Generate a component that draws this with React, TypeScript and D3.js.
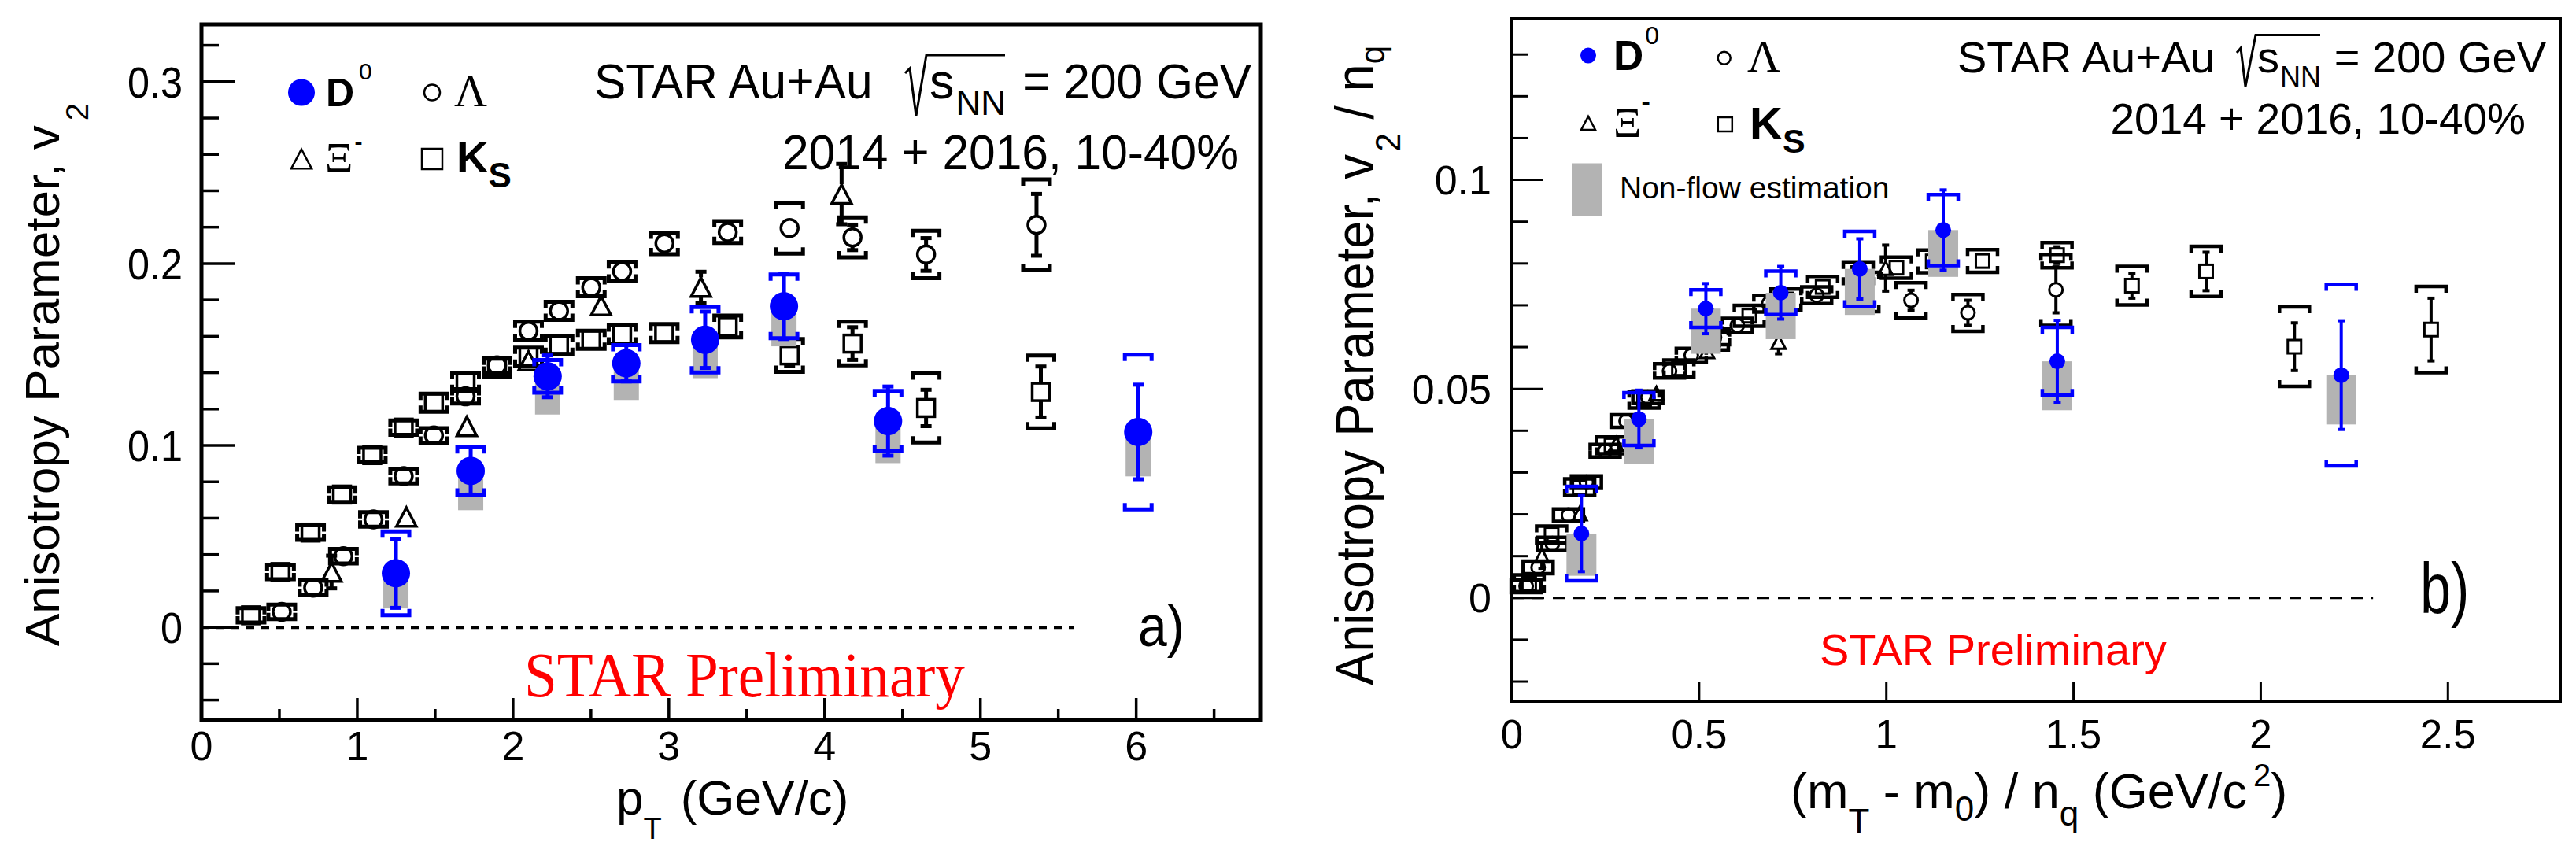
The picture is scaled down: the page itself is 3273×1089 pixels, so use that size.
import React from 'react';
import * as d3 from 'd3';

// ---------------- Panel a): v2 vs pT ----------------
const d0PtA = [1.248, 1.728, 2.222, 2.727, 3.233, 3.739, 4.407, 6.013];
const d0V2A = [0.0297, 0.086, 0.138, 0.1452, 0.1581, 0.1765, 0.1134, 0.1074];
const d0StatA = [0.019, 0.013, 0.0115, 0.01, 0.0155, 0.018, 0.019, 0.026];
const d0SysA = [0.023, 0.013, 0.009, 0.01, 0.018, 0.0175, 0.0166, 0.0425];
const d0NonFlowA = [0.0193, 0.0216, 0.021, 0.0202, 0.0211, 0.022, 0.0231, 0.0244];

const ksPtA = [0.318, 0.507, 0.7, 0.902, 1.096, 1.298, 1.492, 1.695, 1.897, 2.099, 2.295, 2.502, 2.7, 2.97, 3.378, 3.775, 4.179, 4.651, 5.388];
const ksV2A = [0.0066, 0.0304, 0.0521, 0.073, 0.0947, 0.1098, 0.1235, 0.135, 0.1427, 0.1488, 0.1553, 0.1581, 0.161, 0.1618, 0.1654, 0.1495, 0.156, 0.1206, 0.1294];
const ksStatA = [0.001, 0.001, 0.001, 0.001, 0.001, 0.001, 0.001, 0.001, 0.002, 0.002, 0.002, 0.003, 0.003, 0.003, 0.004, 0.006, 0.009, 0.01, 0.014];
const ksSysA = [0.004, 0.004, 0.004, 0.004, 0.004, 0.004, 0.005, 0.005, 0.005, 0.005, 0.005, 0.005, 0.005, 0.005, 0.006, 0.009, 0.012, 0.019, 0.02];

const lamPtA = [0.515, 0.717, 0.911, 1.104, 1.298, 1.492, 1.695, 1.897, 2.099, 2.295, 2.502, 2.7, 2.972, 3.378, 3.775, 4.179, 4.651, 5.36];
const lamV2A = [0.0085, 0.0218, 0.0391, 0.0593, 0.0831, 0.1055, 0.127, 0.144, 0.163, 0.174, 0.187, 0.1957, 0.2111, 0.2173, 0.2195, 0.2144, 0.205, 0.2213];
const lamStatA = [0.001, 0.001, 0.001, 0.001, 0.001, 0.001, 0.001, 0.002, 0.002, 0.002, 0.002, 0.002, 0.003, 0.003, 0.004, 0.007, 0.009, 0.017];
const lamSysA = [0.004, 0.004, 0.004, 0.004, 0.004, 0.004, 0.004, 0.004, 0.005, 0.005, 0.005, 0.005, 0.006, 0.006, 0.014, 0.011, 0.013, 0.025];

const xiPtA = [0.835, 1.315, 1.703, 2.099, 2.565, 3.206, 4.109];
const xiV2A = [0.0304, 0.0607, 0.1105, 0.1466, 0.1769, 0.187, 0.2382];
const xiStatA = [0.009, 0.003, 0.003, 0.003, 0.004, 0.0085, 0.0166];

// ---------------- Panel b): v2/nq vs (mT-m0)/nq ----------------
const d0KeB = [0.1857, 0.3392, 0.518, 0.718, 0.929, 1.152, 1.4566, 2.215];
const d0V2B = [0.0154, 0.0428, 0.0692, 0.073, 0.0787, 0.088, 0.0566, 0.0533];
const d0StatB = [0.0091, 0.0069, 0.006, 0.0063, 0.0072, 0.0096, 0.0098, 0.013];
const d0SysB = [0.0113, 0.0063, 0.0045, 0.0052, 0.009, 0.0085, 0.0081, 0.0217];
const d0NonFlowB = [0.0101, 0.0108, 0.0108, 0.0111, 0.011, 0.0112, 0.0117, 0.0118];

const ksKeB = [0.046, 0.106, 0.181, 0.266, 0.353, 0.446, 0.538, 0.634, 0.732, 0.83, 0.925, 1.027, 1.124, 1.257, 1.456, 1.656, 1.854, 2.09, 2.455];
const ksV2B = [0.0035, 0.0152, 0.0265, 0.0365, 0.0474, 0.0549, 0.0618, 0.0675, 0.0714, 0.0744, 0.0777, 0.079, 0.0805, 0.0806, 0.082, 0.0747, 0.0781, 0.0601, 0.0642];
const ksStatB = [0.0005, 0.0005, 0.0005, 0.0005, 0.0005, 0.0005, 0.0005, 0.0005, 0.001, 0.001, 0.001, 0.0015, 0.0015, 0.0015, 0.002, 0.003, 0.0046, 0.0057, 0.0075];
const ksSysB = [0.002, 0.002, 0.002, 0.002, 0.002, 0.002, 0.0025, 0.0025, 0.0025, 0.0025, 0.0025, 0.0025, 0.0027, 0.0027, 0.003, 0.0046, 0.006, 0.0095, 0.0103];

const lamKeB = [0.038, 0.07, 0.108, 0.151, 0.199, 0.249, 0.305, 0.363, 0.421, 0.479, 0.541, 0.602, 0.686, 0.814, 0.94, 1.066, 1.218, 1.453];
const lamV2B = [0.0028, 0.0073, 0.013, 0.0198, 0.0277, 0.0352, 0.0423, 0.048, 0.0543, 0.058, 0.0623, 0.0652, 0.0704, 0.0724, 0.0732, 0.0712, 0.0682, 0.0737];
const lamStatB = [0.0005, 0.0005, 0.0005, 0.0005, 0.0005, 0.0005, 0.0005, 0.0007, 0.0007, 0.0007, 0.0007, 0.0007, 0.001, 0.001, 0.0013, 0.0024, 0.003, 0.0055];
const lamSysB = [0.0015, 0.0015, 0.0015, 0.0015, 0.0015, 0.0015, 0.0015, 0.0015, 0.0017, 0.0017, 0.0017, 0.0017, 0.002, 0.002, 0.0047, 0.0042, 0.0044, 0.0085];

const xiKeB = [0.08, 0.181, 0.278, 0.386, 0.521, 0.712, 0.998];
const xiV2B = [0.0101, 0.0202, 0.0368, 0.0489, 0.059, 0.0612, 0.0789];
const xiStatB = [0.003, 0.001, 0.001, 0.001, 0.0013, 0.0028, 0.0055];

// ---------------- axes ----------------
const aXMajor = [0, 1, 2, 3, 4, 5, 6];
const aXMinor = [0.5, 1.5, 2.5, 3.5, 4.5, 5.5, 6.5];
const aXLabels = ['0', '1', '2', '3', '4', '5', '6'];
const aYMajor = [0, 0.1, 0.2, 0.3];
const aYLabels = ['0', '0.1', '0.2', '0.3'];
const aYMinor = [-0.04, -0.02, 0.02, 0.04, 0.06, 0.08, 0.12, 0.14, 0.16, 0.18, 0.22, 0.24, 0.26, 0.28, 0.32];

const bXMajor = [0, 0.5, 1, 1.5, 2, 2.5];
const bXLabels = ['0', '0.5', '1', '1.5', '2', '2.5'];
const bYMajor = [0, 0.05, 0.1];
const bYLabels = ['0', '0.05', '0.1'];
const bYMinor = [-0.02, -0.01, 0.01, 0.02, 0.03, 0.04, 0.06, 0.07, 0.08, 0.09, 0.11, 0.12, 0.13];

const SANS = "'Liberation Sans', Arial, Helvetica, sans-serif";
const SERIF = "'Liberation Serif', 'Times New Roman', serif";
const BLUE = '#0000ff';
const GRAY = '#b3b3b3';

type Sty = { r: number; cr: number; sq: number; tri: number; bw: number; bt: number; bs: number; ss: number; cap: number; box: number; ms: number };

const styA: Sty = { r: 18, cr: 11, sq: 22, tri: 25, bw: 34, bt: 8, bs: 5, ss: 5, cap: 14, box: 32, ms: 3.5 };
const styB: Sty = { r: 10, cr: 8.5, sq: 17, tri: 18, bw: 38, bt: 8, bs: 4.5, ss: 4, cap: 9, box: 38, ms: 3 };

function Txt(p: any) {
  const { x, y, size, sx = 1, anchor = 'start', family = SANS, weight = 'normal', fill = '#000', rotate = 0, children } = p;
  return (
    <text
      transform={`translate(${x},${y})${rotate ? ` rotate(${rotate})` : ''} scale(${sx},1)`}
      fontSize={size}
      fontFamily={family}
      fontWeight={weight}
      fill={fill}
      textAnchor={anchor}
    >
      {children}
    </text>
  );
}

function Marker({ shape, x, y, st, color, size }: any) {
  if (shape === 'dot') return <circle cx={x} cy={y} r={size ?? st.r} fill={color} />;
  if (shape === 'circle')
    return <circle cx={x} cy={y} r={size ?? st.cr} fill="none" stroke={color} strokeWidth={st.ms} />;
  if (shape === 'square') {
    const s = size ?? st.sq;
    return <rect x={x - s / 2} y={y - s / 2} width={s} height={s} fill="none" stroke={color} strokeWidth={st.ms} />;
  }
  const s = size ?? st.tri;
  const h = s * 0.95;
  return (
    <polygon
      points={`${x},${y - h / 2} ${x - s / 2},${y + h / 2} ${x + s / 2},${y + h / 2}`}
      fill="none"
      stroke={color}
      strokeWidth={st.ms}
      strokeLinejoin="miter"
    />
  );
}

function halfSize(shape: string, st: Sty) {
  if (shape === 'dot') return 0;
  if (shape === 'circle') return st.cr;
  if (shape === 'square') return st.sq / 2;
  return st.tri / 2;
}

function Series({ xs, ys, stat, sys, nf, shape, color, sx, sy, st }: any) {
  const hs = halfSize(shape, st);
  return (
    <g>
      {nf &&
        xs.map((v: number, i: number) => (
          <rect
            key={'nf' + i}
            x={sx(v) - st.box / 2}
            y={sy(ys[i])}
            width={st.box}
            height={sy(ys[i] - nf[i]) - sy(ys[i])}
            fill={GRAY}
          />
        ))}
      {sys &&
        xs.map((v: number, i: number) => {
          if (!sys[i]) return null;
          const cx = sx(v);
          const yt = sy(ys[i] + sys[i]);
          const yb = sy(ys[i] - sys[i]);
          const w = st.bw / 2;
          return (
            <g key={'sy' + i} fill="none" stroke={color} strokeWidth={st.bs}>
              <path d={`M${cx - w},${yt + st.bt} L${cx - w},${yt} L${cx + w},${yt} L${cx + w},${yt + st.bt}`} />
              <path d={`M${cx - w},${yb - st.bt} L${cx - w},${yb} L${cx + w},${yb} L${cx + w},${yb - st.bt}`} />
            </g>
          );
        })}
      {xs.map((v: number, i: number) => {
        const cx = sx(v);
        const cy = sy(ys[i]);
        const yt = sy(ys[i] + stat[i]);
        const yb = sy(ys[i] - stat[i]);
        if (cy - yt <= hs + 1) return null;
        const c = st.cap / 2;
        return (
          <g key={'st' + i} stroke={color} strokeWidth={st.ss}>
            <line x1={cx} x2={cx} y1={yt} y2={cy - hs} />
            <line x1={cx} x2={cx} y1={cy + hs} y2={yb} />
            <line x1={cx - c} x2={cx + c} y1={yt} y2={yt} />
            <line x1={cx - c} x2={cx + c} y1={yb} y2={yb} />
          </g>
        );
      })}
      {xs.map((v: number, i: number) => (
        <Marker key={'m' + i} shape={shape} x={sx(v)} y={sy(ys[i])} st={st} color={color} />
      ))}
    </g>
  );
}

function PanelA() {
  const x = d3.scaleLinear().domain([0, 6.8]).range([256, 1602]);
  const y = d3.scaleLinear().domain([-0.051, 0.3315]).range([915, 31]);
  const [x0, x1] = x.range();
  const [yb, yt] = y.range();
  const st = styA;
  return (
    <g>
      {aYMajor.map((v) => (
        <line key={'ym' + v} x1={x0} x2={x0 + 43} y1={y(v)} y2={y(v)} stroke="#000" strokeWidth={3.5} />
      ))}
      {aYMinor.map((v) => (
        <line key={'yn' + v} x1={x0} x2={x0 + 22} y1={y(v)} y2={y(v)} stroke="#000" strokeWidth={3.5} />
      ))}
      {aXMajor.map((v) => (
        <line key={'xm' + v} x1={x(v)} x2={x(v)} y1={yb} y2={yb - 28} stroke="#000" strokeWidth={3.5} />
      ))}
      {aXMinor.map((v) => (
        <line key={'xn' + v} x1={x(v)} x2={x(v)} y1={yb} y2={yb - 14} stroke="#000" strokeWidth={3.5} />
      ))}
      {aYMajor.map((v, i) => (
        <Txt key={'yl' + v} x={232} y={y(v) + 20} size={56} sx={0.9} anchor="end">
          {aYLabels[i]}
        </Txt>
      ))}
      {aXMajor.map((v, i) => (
        <Txt key={'xl' + v} x={x(v)} y={966} size={52} anchor="middle">
          {aXLabels[i]}
        </Txt>
      ))}
      <line x1={x(0)} x2={x(5.6)} y1={y(0)} y2={y(0)} stroke="#000" strokeWidth={4} strokeDasharray="10 9" />

      <Series xs={ksPtA} ys={ksV2A} stat={ksStatA} sys={ksSysA} shape="square" color="#000" sx={x} sy={y} st={st} />
      <Series xs={lamPtA} ys={lamV2A} stat={lamStatA} sys={lamSysA} shape="circle" color="#000" sx={x} sy={y} st={st} />
      <Series xs={xiPtA} ys={xiV2A} stat={xiStatA} shape="triangle" color="#000" sx={x} sy={y} st={st} />
      <Series xs={d0PtA} ys={d0V2A} stat={d0StatA} sys={d0SysA} nf={d0NonFlowA} shape="dot" color={BLUE} sx={x} sy={y} st={st} />

      <rect x={x0} y={yt} width={x1 - x0} height={yb - yt} fill="none" stroke="#000" strokeWidth={5} />

      {/* legend */}
      <Marker shape="dot" x={383} y={117.5} st={st} color={BLUE} size={17} />
      <text x={414} y={135} fontFamily={SANS} fill="#000">
        <tspan fontSize={50} fontWeight="bold">D</tspan>
        <tspan fontSize={30} dx={6} dy={-34}>0</tspan>
      </text>
      <Marker shape="circle" x={549} y={117.5} st={{ ...st, ms: 2.5 }} color="#000" size={10} />
      <Txt x={577} y={135} size={58} family={SERIF}>Λ</Txt>
      <Marker shape="triangle" x={383} y={202} st={{ ...st, ms: 2.5 }} color="#000" size={26} />
      <text x={413} y={219} fill="#000">
        <tspan fontSize={55} fontFamily={SERIF}>Ξ</tspan>
        <tspan fontSize={30} fontFamily={SANS} fontWeight="bold" dx={2} dy={-29}>-</tspan>
      </text>
      <Marker shape="square" x={549} y={202} st={{ ...st, ms: 2.5 }} color="#000" size={26} />
      <text x={580} y={219} fontFamily={SANS} fontWeight="bold" fill="#000">
        <tspan fontSize={56}>K</tspan>
        <tspan fontSize={44} dy={19}>S</tspan>
      </text>

      {/* header */}
      <Txt x={755} y={124.5} size={63} sx={0.96}>STAR Au+Au</Txt>
      <path d="M1150,93 L1156,87 L1164,147 L1177,70 L1277,70" fill="none" stroke="#000" strokeWidth={3} />
      <text x={1181} y={124.5} fontSize={63} fontFamily={SANS} fill="#000">
        s
        <tspan fontSize={44} dx={2} dy={21}>NN</tspan>
      </text>
      <Txt x={1590} y={124.5} size={63} sx={0.96} anchor="end">= 200 GeV</Txt>
      <Txt x={1574} y={214.7} size={63} sx={0.96} anchor="end">2014 + 2016, 10-40%</Txt>

      <Txt x={1446} y={821} size={75} sx={0.88}>a)</Txt>
      <Txt x={666} y={885} size={80} sx={0.94} family={SERIF} fill="#ff0000">STAR Preliminary</Txt>

      {/* axis titles */}
      <text x={783} y={1035} fontSize={62} fontFamily={SANS} fill="#000">
        p
        <tspan fontSize={38} dx={0} dy={31}>T</tspan>
        <tspan dx={24} dy={-31}>(GeV/c)</tspan>
      </text>
      <text transform="translate(75,821) rotate(-90)" fontSize={62} fontFamily={SANS}>
        Anisotropy Parameter, v
        <tspan fontSize={40} dx={6} dy={37}>2</tspan>
      </text>
    </g>
  );
}

function PanelB() {
  const x = d3.scaleLinear().domain([0, 2.8]).range([1921, 3253]);
  const y = d3.scaleLinear().domain([-0.0247, 0.1387]).range([891, 23]);
  const [x0, x1] = x.range();
  const [yb, yt] = y.range();
  const st = styB;
  return (
    <g>
      {bYMajor.map((v) => (
        <line key={'ym' + v} x1={x0} x2={x0 + 39} y1={y(v)} y2={y(v)} stroke="#000" strokeWidth={3} />
      ))}
      {bYMinor.map((v) => (
        <line key={'yn' + v} x1={x0} x2={x0 + 20} y1={y(v)} y2={y(v)} stroke="#000" strokeWidth={3} />
      ))}
      {bXMajor.map((v) => (
        <line key={'xm' + v} x1={x(v)} x2={x(v)} y1={yb} y2={yb - 24} stroke="#000" strokeWidth={3} />
      ))}
      {bYMajor.map((v, i) => (
        <Txt key={'yl' + v} x={1895} y={y(v) + 18.5} size={52} anchor="end">
          {bYLabels[i]}
        </Txt>
      ))}
      {bXMajor.map((v, i) => (
        <Txt key={'xl' + v} x={x(v)} y={951} size={51} anchor="middle">
          {bXLabels[i]}
        </Txt>
      ))}
      <line x1={x(0)} x2={x(2.3)} y1={y(0)} y2={y(0)} stroke="#000" strokeWidth={3} strokeDasharray="15 11" />

      <Series xs={ksKeB} ys={ksV2B} stat={ksStatB} sys={ksSysB} shape="square" color="#000" sx={x} sy={y} st={st} />
      <Series xs={lamKeB} ys={lamV2B} stat={lamStatB} sys={lamSysB} shape="circle" color="#000" sx={x} sy={y} st={st} />
      <Series xs={xiKeB} ys={xiV2B} stat={xiStatB} shape="triangle" color="#000" sx={x} sy={y} st={st} />
      <Series xs={d0KeB} ys={d0V2B} stat={d0StatB} sys={d0SysB} nf={d0NonFlowB} shape="dot" color={BLUE} sx={x} sy={y} st={st} />

      <rect x={x0} y={yt} width={x1 - x0} height={yb - yt} fill="none" stroke="#000" strokeWidth={4} />

      {/* legend */}
      <Marker shape="dot" x={2018} y={70.6} st={st} color={BLUE} size={10} />
      <text x={2050} y={88.6} fontFamily={SANS} fill="#000">
        <tspan fontSize={53} fontWeight="bold">D</tspan>
        <tspan fontSize={32} dx={2} dy={-33}>0</tspan>
      </text>
      <Marker shape="circle" x={2190.7} y={73.7} st={{ ...st, ms: 2.5 }} color="#000" size={8} />
      <Txt x={2220} y={91} size={58} family={SERIF}>Λ</Txt>
      <Marker shape="triangle" x={2018} y={156.4} st={{ ...st, ms: 2.5 }} color="#000" size={18} />
      <text x={2050} y={173.8} fill="#000">
        <tspan fontSize={55} fontFamily={SERIF}>Ξ</tspan>
        <tspan fontSize={34} fontFamily={SANS} fontWeight="bold" dx={0} dy={-34}>-</tspan>
      </text>
      <Marker shape="square" x={2191.8} y={158} st={{ ...st, ms: 2.5 }} color="#000" size={18} />
      <text x={2223} y={177.3} fontFamily={SANS} fontWeight="bold" fill="#000">
        <tspan fontSize={58}>K</tspan>
        <tspan fontSize={43} dy={17}>S</tspan>
      </text>
      <rect x={1997} y={207.5} width={39} height={67} fill={GRAY} />
      <Txt x={2058} y={252} size={39}>Non-flow estimation</Txt>

      {/* header */}
      <Txt x={2487} y={92} size={56}>STAR Au+Au</Txt>
      <path d="M2842,67 L2847,61 L2853,110 L2866,44.5 L2948,44.5" fill="none" stroke="#000" strokeWidth={3} />
      <text x={2868} y={92} fontSize={56} fontFamily={SANS} fill="#000">
        s
        <tspan fontSize={36} dx={1} dy={17.5}>NN</tspan>
      </text>
      <Txt x={3235} y={92} size={56} anchor="end">= 200 GeV</Txt>
      <Txt x={3209} y={169.6} size={55} anchor="end">2014 + 2016, 10-40%</Txt>

      <Txt x={3075} y={779} size={90} sx={0.78}>b)</Txt>
      <Txt x={2312} y={845} size={56} fill="#ff0000">STAR Preliminary</Txt>

      {/* axis titles */}
      <text x={2275} y={1027} fontSize={63} fontFamily={SANS}>
        (m
        <tspan fontSize={44} dy={32}>T</tspan>
        <tspan dy={-32}> - m</tspan>
        <tspan fontSize={44} dy={16}>0</tspan>
        <tspan dy={-16}>) / n</tspan>
        <tspan fontSize={44} dy={22}>q</tspan>
        <tspan dy={-22}> (GeV/c</tspan>
        <tspan fontSize={40} dx={8} dy={-28}>2</tspan>
        <tspan dy={28}>)</tspan>
      </text>
      <text transform="translate(1745,871) rotate(-90) scale(0.93,1)" fontSize={68} fontFamily={SANS}>
        Anisotropy Parameter, v
        <tspan fontSize={45} dx={4} dy={34}>2</tspan>
        <tspan dy={-34}> / n</tspan>
        <tspan fontSize={45} dy={14}>q</tspan>
      </text>
    </g>
  );
}

export default function App() {
  return (
    <div style={{ position: 'absolute', left: 0, top: 0, width: 3273, height: 1089, overflow: 'hidden', background: '#fff' }}>
      <svg width={3273} height={1089} viewBox="0 0 3273 1089" style={{ display: 'block' }}>
        <rect x={0} y={0} width={3273} height={1089} fill="#fff" />
        <PanelA />
        <PanelB />
      </svg>
    </div>
  );
}
